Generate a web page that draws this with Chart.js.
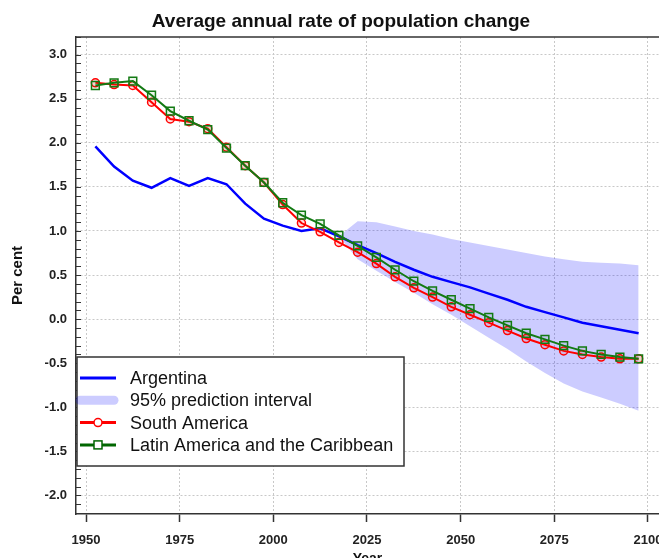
<!DOCTYPE html>
<html>
<head>
    <title>Average annual rate of population change</title>
    <style>
        html, body { margin: 0; padding: 0; overflow: hidden; background: #fff; }
        #wrap { width: 679px; height: 570px; }
    </style>
</head>
<body>
<div id="wrap">
    <canvas id="myChart" width="679" height="570"></canvas>
</div>
<script src="https://cdn.jsdelivr.net/npm/chart.js"></script>
<script>
    // mijlocul perioadelor de 5 ani
    const years = [1952.5, 1957.5, 1962.5, 1967.5, 1972.5, 1977.5, 1982.5, 1987.5, 1992.5, 1997.5,
        2002.5, 2007.5, 2012.5, 2017.5, 2022.5, 2027.5, 2032.5, 2037.5, 2042.5, 2047.5,
        2052.5, 2057.5, 2062.5, 2067.5, 2072.5, 2077.5, 2082.5, 2087.5, 2092.5, 2097.5];

    const argentina = [1.96, 1.73, 1.57, 1.49, 1.60, 1.51, 1.60, 1.53, 1.31, 1.14,
        1.06, 1.00, 1.03, 0.94, 0.84, 0.75, 0.65, 0.56, 0.48, 0.42,
        0.36, 0.29, 0.22, 0.14, 0.08, 0.02, -0.04, -0.08, -0.12, -0.16];

    const southAmerica = [2.68, 2.66, 2.65, 2.46, 2.27, 2.24, 2.16, 1.95, 1.74, 1.55,
        1.30, 1.09, 0.99, 0.87, 0.76, 0.63, 0.48, 0.355, 0.25, 0.14,
        0.05, -0.04, -0.13, -0.22, -0.29, -0.36, -0.40, -0.43, -0.45, -0.45];

    const latinAmerica = [2.65, 2.68, 2.70, 2.54, 2.36, 2.25, 2.15, 1.94, 1.74, 1.55,
        1.32, 1.18, 1.08, 0.95, 0.83, 0.70, 0.56, 0.43, 0.32, 0.22,
        0.12, 0.02, -0.07, -0.16, -0.23, -0.30, -0.36, -0.40, -0.43, -0.45];

    // interval de predictie 95% pentru Argentina
    const intervalYears = [2017.5, 2022.5, 2027.5, 2032.5, 2037.5, 2042.5, 2047.5, 2052.5, 2057.5,
        2062.5, 2067.5, 2072.5, 2077.5, 2082.5, 2087.5, 2092.5, 2097.5];
    const intervalUpper = [0.94, 1.11, 1.10, 1.05, 1.00, 0.96, 0.91, 0.87, 0.83,
        0.79, 0.75, 0.71, 0.68, 0.65, 0.64, 0.63, 0.61];
    const intervalLower = [0.94, 0.68, 0.55, 0.42, 0.30, 0.17, 0.05, -0.08, -0.21,
        -0.34, -0.48, -0.61, -0.73, -0.82, -0.89, -0.96, -1.04];

    const xTicks = [1950, 1975, 2000, 2025, 2050, 2075, 2100];
    const yTicks = [-2.0, -1.5, -1.0, -0.5, 0.0, 0.5, 1.0, 1.5, 2.0, 2.5, 3.0];

    const legendLabels = ['Argentina', '95% prediction interval', 'South America', 'Latin America and the Caribbean'];

    const blue = '#0000ff';
    const band = 'rgba(0, 0, 255, 0.2)';
    const red = '#ff0000';
    const green = '#137a13';
    const axisColor = '#333333';
    const gridColor = '#c8c8c8';

    Chart.defaults.font.family = '"Liberation Sans", Arial, sans-serif';

    function toPoints(xs, ys) {
        return xs.map((x, i) => ({x: x, y: ys[i]}));
    }

    // linia de sus a cadrului si tick-urile mici spre interior pe axa Y
    const framePlugin = {
        id: 'frame',
        beforeDatasetsDraw(chart) {
            const ctx = chart.ctx;
            const a = chart.chartArea;
            const y = chart.scales.y;
            ctx.save();
            ctx.strokeStyle = axisColor;
            ctx.lineWidth = 1.5;
            ctx.beginPath();
            ctx.moveTo(a.left, a.top);
            ctx.lineTo(a.right, a.top);
            ctx.stroke();
            ctx.lineWidth = 1;
            ctx.beginPath();
            for (let v = Math.ceil(y.min * 10); v <= Math.floor(y.max * 10); v++) {
                const py = Math.round(y.getPixelForValue(v / 10)) + 0.5;
                ctx.moveTo(a.left, py);
                ctx.lineTo(a.left + 5, py);
            }
            ctx.stroke();
            ctx.restore();
        }
    };

    const legendPlugin = {
        id: 'boxLegend',
        afterDatasetsDraw(chart) {
            const ctx = chart.ctx;
            const a = chart.chartArea;
            const left = a.left + 1, top = a.top + 320, w = 327, h = 109;
            ctx.save();
            ctx.fillStyle = '#fff';
            ctx.fillRect(left, top, w, h);
            ctx.strokeStyle = axisColor;
            ctx.lineWidth = 1.5;
            ctx.strokeRect(left, top, w, h);
            ctx.font = '18px "Liberation Sans", Arial, sans-serif';
            ctx.textBaseline = 'middle';
            legendLabels.forEach((label, i) => {
                const cy = top + 21 + i * 22.3;
                const x1 = left + 3, x2 = left + 39, xm = (x1 + x2) / 2;
                ctx.lineCap = 'butt';
                if (i === 1) {
                    ctx.strokeStyle = band;
                    ctx.lineWidth = 9;
                    ctx.lineCap = 'round';
                    ctx.beginPath();
                    ctx.moveTo(left + 3, cy);
                    ctx.lineTo(left + 37, cy);
                    ctx.stroke();
                } else {
                    const col = i === 0 ? blue : (i === 2 ? red : '#006600');
                    ctx.strokeStyle = col;
                    ctx.lineWidth = 3;
                    ctx.beginPath();
                    ctx.moveTo(x1, cy);
                    ctx.lineTo(x2, cy);
                    ctx.stroke();
                    ctx.lineWidth = 1.5;
                    if (i === 2) {
                        ctx.fillStyle = '#fff';
                        ctx.beginPath();
                        ctx.arc(xm, cy, 4, 0, Math.PI * 2);
                        ctx.fill();
                        ctx.stroke();
                    } else if (i === 3) {
                        ctx.fillStyle = '#fff';
                        ctx.fillRect(xm - 4, cy - 4, 8, 8);
                        ctx.strokeRect(xm - 4, cy - 4, 8, 8);
                    }
                }
                ctx.fillStyle = '#111';
                ctx.fillText(label, left + 53, cy + 1);
            });
            ctx.restore();
        }
    };

    const chartConfig = {
        type: 'line',
        data: {
            datasets: [
                {
                    label: 'Latin America and the Caribbean',
                    data: toPoints(years, latinAmerica),
                    borderColor: green,
                    borderWidth: 2,
                    pointStyle: 'rect',
                    pointRadius: 5.5,
                    pointBorderWidth: 1.5,
                    pointBorderColor: green,
                    pointBackgroundColor: 'rgba(19, 122, 19, 0.08)',
                    fill: false
                },
                {
                    label: 'South America',
                    data: toPoints(years, southAmerica),
                    borderColor: red,
                    borderWidth: 2,
                    pointStyle: 'circle',
                    pointRadius: 4,
                    pointBorderWidth: 1.5,
                    pointBorderColor: red,
                    pointBackgroundColor: 'rgba(255, 0, 0, 0.12)',
                    fill: false
                },
                {
                    label: 'Argentina',
                    data: toPoints(years, argentina),
                    borderColor: blue,
                    borderWidth: 2.5,
                    pointRadius: 0,
                    fill: false
                },
                {
                    label: '95% upper',
                    data: toPoints(intervalYears, intervalUpper),
                    borderColor: 'rgba(0,0,0,0)',
                    borderWidth: 0,
                    pointRadius: 0,
                    backgroundColor: band,
                    fill: '+1'
                },
                {
                    label: '95% lower',
                    data: toPoints(intervalYears, intervalLower),
                    borderColor: 'rgba(0,0,0,0)',
                    borderWidth: 0,
                    pointRadius: 0,
                    fill: false
                }
            ]
        },
        options: {
            responsive: false,
            animation: false,
            layout: {padding: {left: 23, right: 20, top: 0, bottom: 0}},
            plugins: {
                legend: {display: false},
                tooltip: {enabled: false},
                title: {
                    display: true,
                    text: 'Average annual rate of population change',
                    color: '#111',
                    font: {size: 19, weight: 'bold'},
                    padding: {top: 10, bottom: 4.2}
                }
            },
            scales: {
                x: {
                    type: 'linear',
                    min: 1947.33,
                    max: 2102.94,
                    afterBuildTicks: scale => { scale.ticks = xTicks.map(v => ({value: v})); },
                    afterFit: scale => { scale.height = 56; },
                    grid: {color: gridColor, lineWidth: 1, tickColor: axisColor, tickLength: 8, tickWidth: 1.5},
                    border: {color: axisColor, width: 1.5, dash: [2, 2]},
                    ticks: {
                        padding: 11,
                        color: '#222',
                        font: {size: 13, weight: 'bold'},
                        maxRotation: 0,
                        autoSkip: false,
                        callback: v => String(v)
                    },
                    title: {
                        display: true,
                        text: 'Year',
                        color: '#111',
                        font: {size: 14, weight: 'bold'},
                        padding: {top: 0, bottom: 2}
                    }
                },
                y: {
                    min: -2.21,
                    max: 3.2,
                    afterBuildTicks: scale => { scale.ticks = yTicks.map(v => ({value: v})); },
                    afterFit: scale => { scale.width = 53; },
                    grid: {color: gridColor, lineWidth: 1, drawTicks: false},
                    border: {color: axisColor, width: 1.5, dash: [2, 2]},
                    ticks: {
                        padding: 9,
                        color: '#222',
                        font: {size: 13, weight: 'bold'},
                        autoSkip: false,
                        callback: v => v.toFixed(1)
                    },
                    title: {
                        display: true,
                        text: 'Per cent',
                        color: '#111',
                        font: {size: 15, weight: 'bold'},
                        padding: {top: -14, bottom: 0}
                    }
                }
            }
        },
        plugins: [framePlugin, legendPlugin]
    };

    const canvas = document.getElementById('myChart');
    const chart = new Chart(canvas, chartConfig);
</script>
</body>
</html>
